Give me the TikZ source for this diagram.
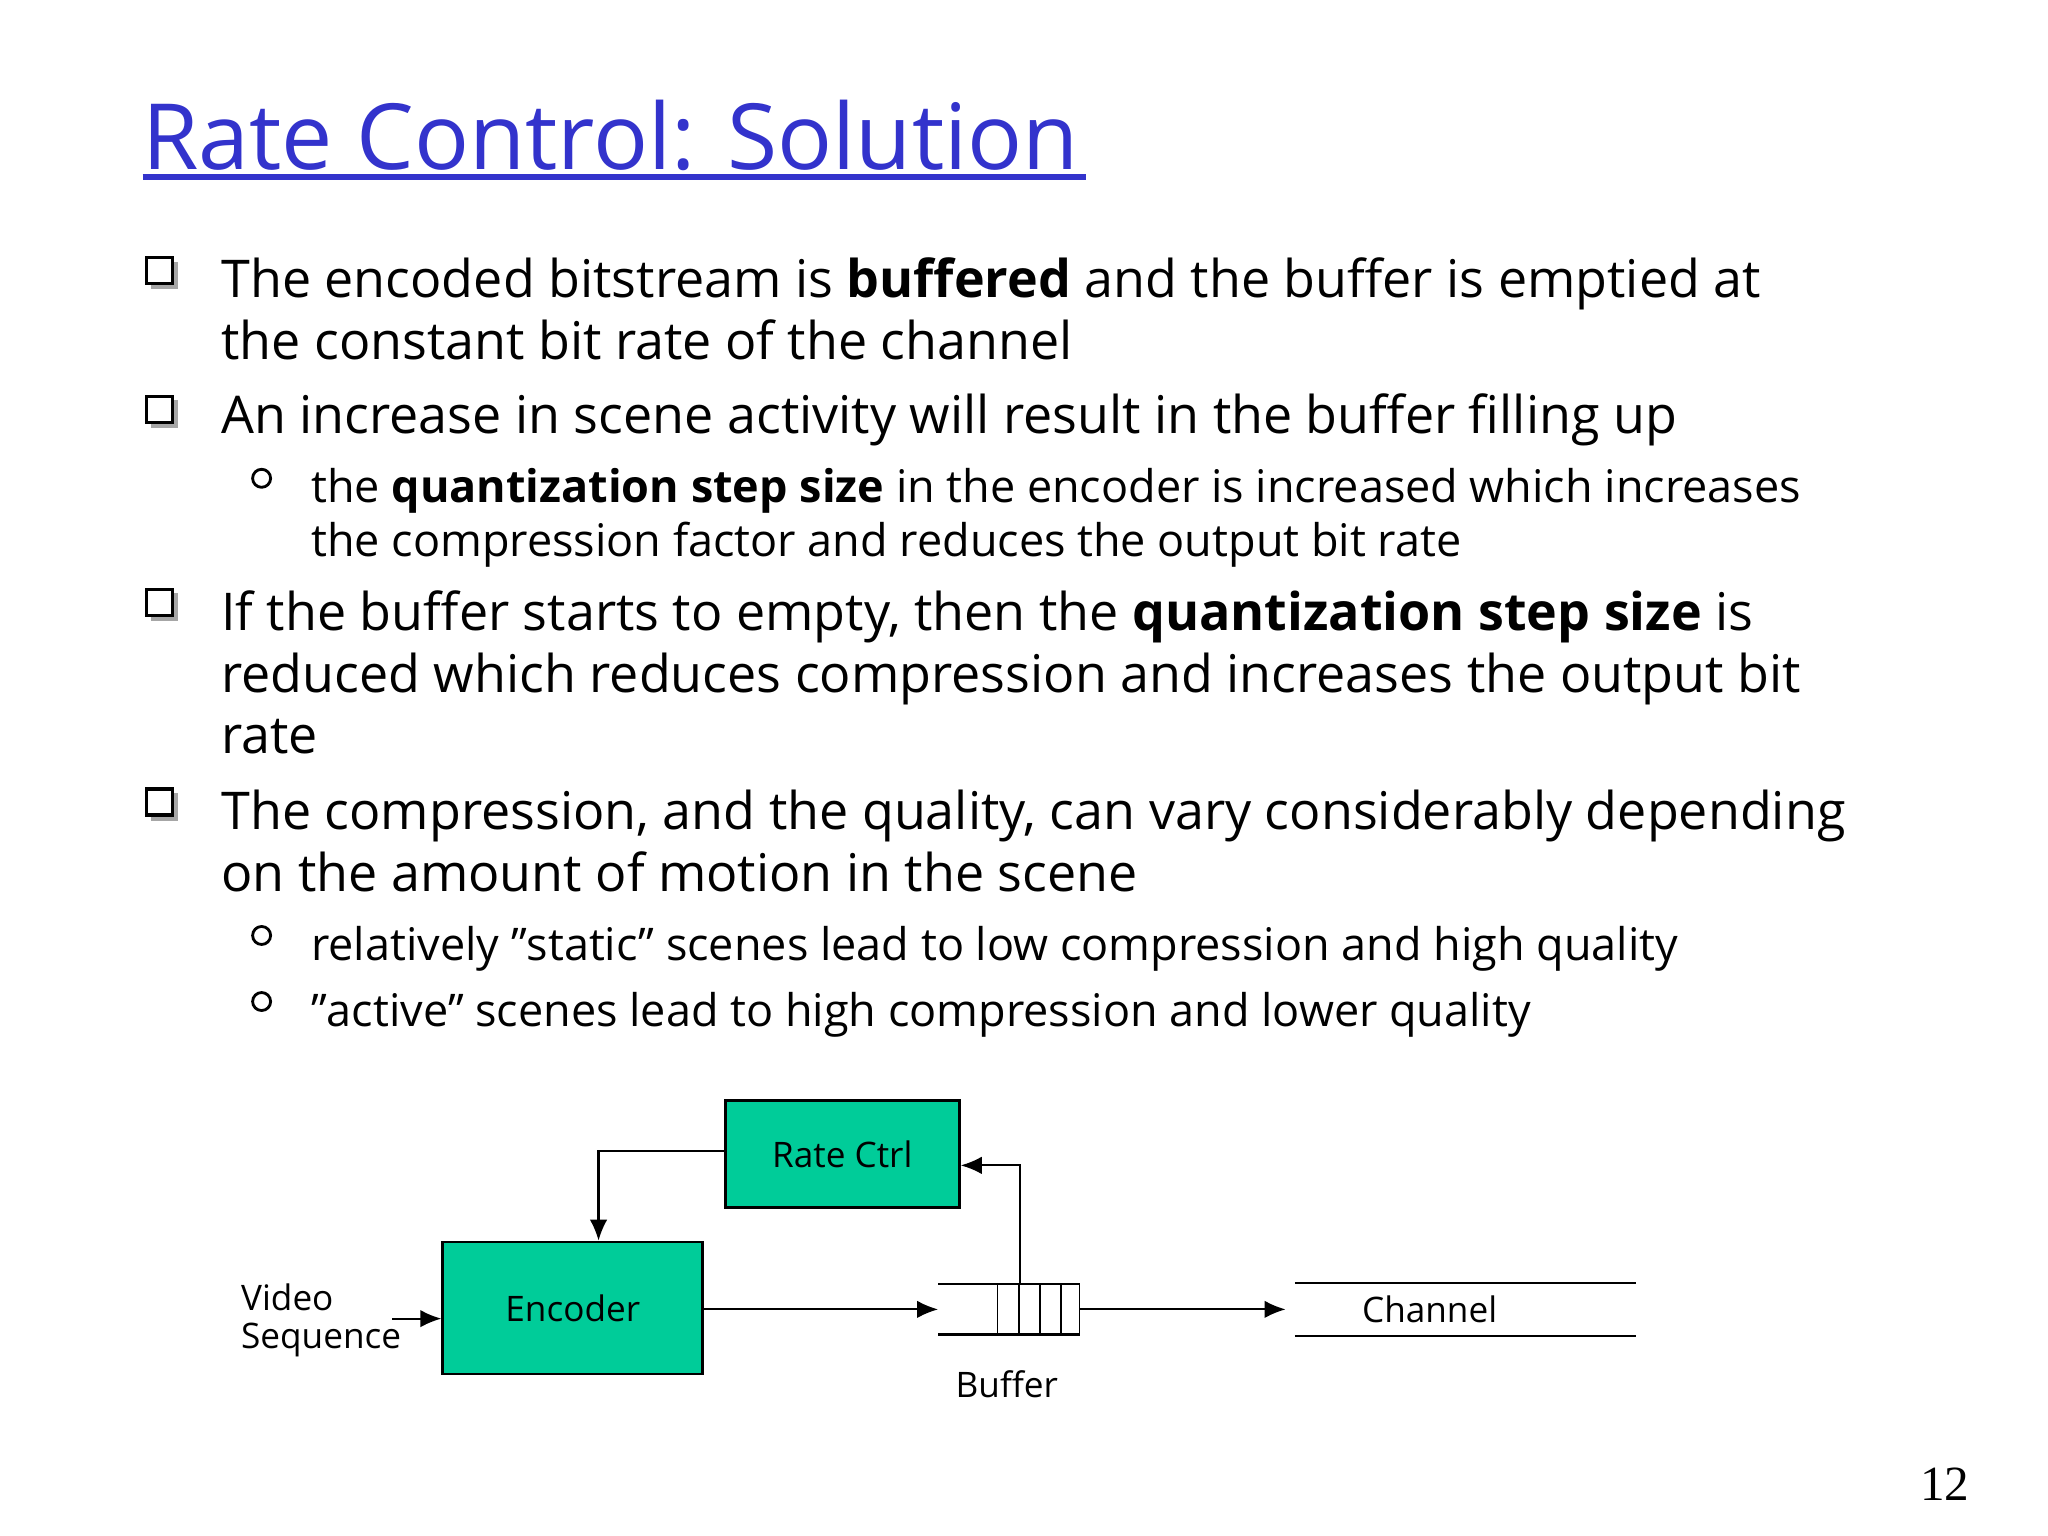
\documentclass[tikz,border=0pt]{standalone}
\usepackage{fontspec}
\setmainfont{Open Sans}
\newfontfamily\numfont{Liberation Serif}
\usetikzlibrary{arrows.meta}
\definecolor{titleblue}{RGB}{51,51,204}
\definecolor{boxgreen}{RGB}{0,204,153}
\newcommand{\qq}{\symbol{34}}
\begin{document}
\begin{tikzpicture}[x=0.013213cm,y=-0.013213cm,
  mainline/.style={anchor=base west,inner sep=0,font=\fontsize{14.8}{17}\selectfont},
  subline/.style={anchor=base west,inner sep=0,font=\fontsize{12.8}{15}\selectfont},
  blt/.style={draw,line width=0.9pt,minimum size=0.26cm,inner sep=0},
  sblt/.style={draw,circle,line width=0.8pt,minimum size=0.18cm,inner sep=0},
  gbox/.style={draw,line width=0.8pt,fill=boxgreen,inner sep=0,font=\fontsize{10}{12}\selectfont},
  dlab/.style={inner sep=0,font=\fontsize{10}{12}\selectfont},
  arr/.style={-{Latex[length=6pt,width=5pt]},line width=0.6pt}]
\useasboundingbox (0,0) rectangle (1550,1162);
\node[anchor=base west,inner sep=0,text=titleblue,font=\fontsize{26}{30}\selectfont] (title) at (107,128) {Rate Control: Solution};
\draw[titleblue,line width=1.5pt] (108,134) -- (822,134);
% bullets
\foreach \y/\n in {205/b1,310/b2,456/b3,607/b4}{
  \fill[gray!70] (114,\y-7) rectangle (135,\y+14);
  \node[blt,fill=white] (\n) at (121,\y) {};}
\foreach \y/\n in {362/s1,708/s2,758/s3}{\node[sblt] (\n) at (198,\y) {};}
\node[mainline] (l1) at (167,225) {The encoded bitstream is \textbf{buffered} and the buffer is emptied at};
\node[mainline] (l2) at (167,272) {the constant bit rate of the channel};
\node[mainline] (l3) at (167,328) {An increase in scene activity will result in the buffer filling up};
\node[subline] (l4) at (235,380) {the \textbf{quantization step size} in the encoder is increased which increases};
\node[subline] (l5) at (235,421) {the compression factor and reduces the output bit rate};
\node[mainline] (l6) at (167,477) {If the buffer starts to empty, then the \textbf{quantization step size} is};
\node[mainline] (l7) at (167,524) {reduced which reduces compression and increases the output bit};
\node[mainline] (l8) at (167,570) {rate};
\node[mainline] (l9) at (167,628) {The compression, and the quality, can vary considerably depending};
\node[mainline] (l10) at (167,675) {on the amount of motion in the scene};
\node[subline] (l11) at (235,727) {relatively \qq static\qq{} scenes lead to low compression and high quality};
\node[subline] (l12) at (235,777) {\qq active\qq{} scenes lead to high compression and lower quality};
% diagram
\node[gbox,minimum width=2.34cm,minimum height=1.07cm] (rc) at (637.5,873.5) {Rate Ctrl};
\node[gbox,minimum width=2.6cm,minimum height=1.32cm] (enc) at (433.5,990) {Encoder};
\coordinate (bufl) at (710,991);
\coordinate (bufr) at (817,991);
\draw[line width=0.6pt] (710,972) -- (817,972) (710,1010) -- (817,1010);
\foreach \x in {755,771,787,803,817}{\draw[line width=0.5pt] (\x,972) -- (\x,1010);}
\node[dlab] (buflab) at (762,1048) {Buffer};
\draw[line width=0.6pt] (980,971) -- (1238,971) (980,1011) -- (1238,1011);
\coordinate (chl) at (973,991);
\node[dlab] (ch) at (1082,991) {Channel};
\node[dlab,anchor=west] (vid) at (182,982) {Video};
\node[dlab,anchor=west] (seq) at (182,1014) {Sequence};
\coordinate (vin) at (297,998);
\draw[arr] (vin) -- (vin -| enc.west);
\draw[arr] (enc.east |- bufl) -- (bufl);
\draw[arr] (bufr) -- (chl);
\coordinate (tap) at (772,972);
\draw[arr] (tap) |- (rc.east |- 0,882);
\draw[arr] (rc.west |- 0,871) -| (enc.north -| 453,0);
\node[anchor=base,inner sep=0,font=\numfont\fontsize{14}{16}\selectfont] (pg) at (1472,1136) {12};
\end{tikzpicture}
\end{document}
